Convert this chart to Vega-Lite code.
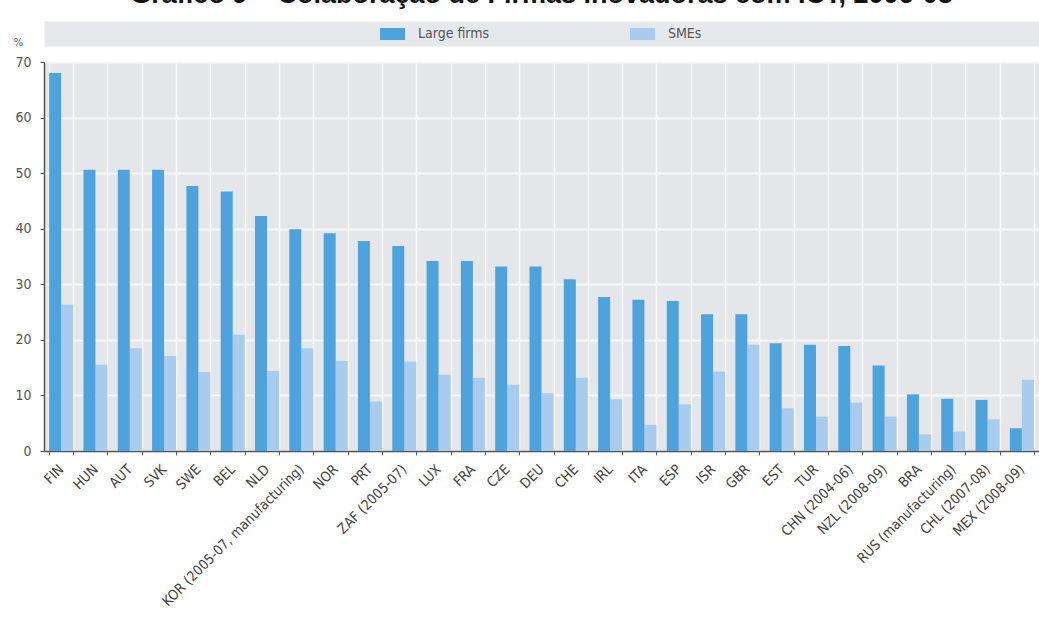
{
  "$schema": "https://vega.github.io/schema/vega-lite/v6.json",
  "width": 995,
  "height": 389,
  "autosize": {"type": "none"},
  "padding": {"left": 44, "top": 62, "right": 0, "bottom": 175},
  "background": "white",
  "title": {
    "text": "Gráfico 9 – Colaboração de Firmas Inovadoras com ICT, 2006-08",
    "font": "Liberation Sans",
    "fontSize": 27,
    "fontWeight": "bold",
    "color": "#111111",
    "anchor": "middle",
    "frame": "group",
    "baseline": "alphabetic",
    "offset": -6
  },
  "data": {
    "values": [
      {"country": "FIN", "series": "Large firms", "value": 68.0},
      {"country": "FIN", "series": "SMEs", "value": 26.3},
      {"country": "HUN", "series": "Large firms", "value": 50.6},
      {"country": "HUN", "series": "SMEs", "value": 15.5},
      {"country": "AUT", "series": "Large firms", "value": 50.6},
      {"country": "AUT", "series": "SMEs", "value": 18.5},
      {"country": "SVK", "series": "Large firms", "value": 50.6},
      {"country": "SVK", "series": "SMEs", "value": 17.1},
      {"country": "SWE", "series": "Large firms", "value": 47.7},
      {"country": "SWE", "series": "SMEs", "value": 14.2},
      {"country": "BEL", "series": "Large firms", "value": 46.7},
      {"country": "BEL", "series": "SMEs", "value": 20.9},
      {"country": "NLD", "series": "Large firms", "value": 42.3},
      {"country": "NLD", "series": "SMEs", "value": 14.4},
      {"country": "KOR (2005-07, manufacturing)", "series": "Large firms", "value": 39.9},
      {"country": "KOR (2005-07, manufacturing)", "series": "SMEs", "value": 18.5},
      {"country": "NOR", "series": "Large firms", "value": 39.2},
      {"country": "NOR", "series": "SMEs", "value": 16.2},
      {"country": "PRT", "series": "Large firms", "value": 37.8},
      {"country": "PRT", "series": "SMEs", "value": 8.9},
      {"country": "ZAF (2005-07)", "series": "Large firms", "value": 36.9},
      {"country": "ZAF (2005-07)", "series": "SMEs", "value": 16.1},
      {"country": "LUX", "series": "Large firms", "value": 34.2},
      {"country": "LUX", "series": "SMEs", "value": 13.7},
      {"country": "FRA", "series": "Large firms", "value": 34.2},
      {"country": "FRA", "series": "SMEs", "value": 13.2},
      {"country": "CZE", "series": "Large firms", "value": 33.2},
      {"country": "CZE", "series": "SMEs", "value": 11.9},
      {"country": "DEU", "series": "Large firms", "value": 33.2},
      {"country": "DEU", "series": "SMEs", "value": 10.4},
      {"country": "CHE", "series": "Large firms", "value": 30.9},
      {"country": "CHE", "series": "SMEs", "value": 13.2},
      {"country": "IRL", "series": "Large firms", "value": 27.7},
      {"country": "IRL", "series": "SMEs", "value": 9.3},
      {"country": "ITA", "series": "Large firms", "value": 27.2},
      {"country": "ITA", "series": "SMEs", "value": 4.7},
      {"country": "ESP", "series": "Large firms", "value": 27.0},
      {"country": "ESP", "series": "SMEs", "value": 8.4},
      {"country": "ISR", "series": "Large firms", "value": 24.6},
      {"country": "ISR", "series": "SMEs", "value": 14.3},
      {"country": "GBR", "series": "Large firms", "value": 24.6},
      {"country": "GBR", "series": "SMEs", "value": 19.1},
      {"country": "EST", "series": "Large firms", "value": 19.4},
      {"country": "EST", "series": "SMEs", "value": 7.7},
      {"country": "TUR", "series": "Large firms", "value": 19.1},
      {"country": "TUR", "series": "SMEs", "value": 6.2},
      {"country": "CHN (2004-06)", "series": "Large firms", "value": 18.9},
      {"country": "CHN (2004-06)", "series": "SMEs", "value": 8.7},
      {"country": "NZL (2008-09)", "series": "Large firms", "value": 15.4},
      {"country": "NZL (2008-09)", "series": "SMEs", "value": 6.2},
      {"country": "BRA", "series": "Large firms", "value": 10.2},
      {"country": "BRA", "series": "SMEs", "value": 3.0},
      {"country": "RUS (manufacturing)", "series": "Large firms", "value": 9.4},
      {"country": "RUS (manufacturing)", "series": "SMEs", "value": 3.5},
      {"country": "CHL (2007-08)", "series": "Large firms", "value": 9.2},
      {"country": "CHL (2007-08)", "series": "SMEs", "value": 5.7},
      {"country": "MEX (2008-09)", "series": "Large firms", "value": 4.1},
      {"country": "MEX (2008-09)", "series": "SMEs", "value": 12.8}
    ]
  },
  "encoding": {
    "xOffset": {
      "field": "series",
      "type": "nominal",
      "sort": ["Large firms", "SMEs"],
      "scale": {"paddingInner": 0, "paddingOuter": 0}
    },
    "y": {
      "field": "value",
      "type": "quantitative",
      "scale": {"domain": [0, 70], "nice": false},
      "axis": {
        "title": "%",
        "titleAngle": 0,
        "titleX": -26,
        "titleY": -20,
        "titleAlign": "center",
        "titleBaseline": "middle",
        "titleFontWeight": "normal",
        "titleFontSize": 11,
        "titleColor": "#555555",
        "values": [0, 10, 20, 30, 40, 50, 60, 70],
        "labelFontSize": 14,
        "labelColor": "#555555",
        "labelPadding": 9,
        "tickSize": 4,
        "tickColor": "#555555",
        "domainColor": "#555555",
        "domainWidth": 1.5,
        "grid": true,
        "gridColor": "#f8f8f8",
        "gridWidth": 2
      }
    },
    "color": {
      "field": "series",
      "type": "nominal",
      "scale": {"domain": ["Large firms", "SMEs"], "range": ["#4fa3dd", "#a9ccee"]},
      "legend": {
        "title": null,
        "orient": "none",
        "direction": "horizontal",
        "legendX": 338.5,
        "legendY": -38,
        "symbolType": "M-1.25,-0.6H1.25V0.6H-1.25Z",
        "symbolSize": 400,
        "symbolStrokeWidth": 0,
        "labelOffset": 15.5,
        "columnPadding": 140,
        "labelFontSize": 14,
        "labelColor": "#555555"
      }
    }
  },
  "layer": [
    {
      "transform": [{"filter": "datum.series === 'SMEs'"}],
      "mark": {"type": "bar"},
      "encoding": {
        "x": {
          "field": "country",
          "type": "nominal",
          "sort": null,
          "scale": {"paddingInner": 0.3, "paddingOuter": 0.15},
          "axis": {
            "orient": "top",
            "title": null,
            "labels": false,
            "ticks": false,
            "grid": false,
            "offset": 28.5,
            "domainWidth": 25,
            "domainColor": "#e6e8eb"
          }
        }
      }
    },
    {
      "transform": [{"filter": "datum.series === 'Large firms'"}],
      "mark": {"type": "bar"},
      "encoding": {
        "x": {
          "field": "country",
          "type": "nominal",
          "sort": null,
          "scale": {"paddingInner": 0.3, "paddingOuter": 0.15},
          "axis": {
            "orient": "bottom",
            "title": null,
            "labelAngle": -45,
            "labelAlign": "right",
            "labelBaseline": "middle",
            "labelPadding": 12,
            "labelFontSize": 14,
            "labelColor": "#444444",
            "labelLimit": 400,
            "tickBand": "extent",
            "tickSize": 4,
            "tickColor": "#666666",
            "domainColor": "#555555",
            "domainWidth": 1.5,
            "grid": true,
            "gridColor": "#f8f8f8",
            "gridWidth": 1.5
          }
        }
      }
    }
  ],
  "resolve": {"axis": {"x": "independent"}},
  "config": {
    "view": {"fill": "#e4e6e9", "stroke": null},
    "axis": {"labelFont": "Liberation Sans Narrow, DejaVu Sans Condensed, sans-serif", "titleFont": "Liberation Sans Narrow, DejaVu Sans Condensed, sans-serif"},
    "legend": {"labelFont": "Liberation Sans Narrow, DejaVu Sans Condensed, sans-serif"}
  }
}
